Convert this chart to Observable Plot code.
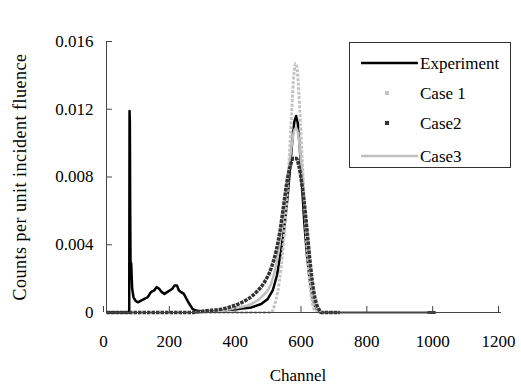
<!DOCTYPE html>
<html>
<head>
<meta charset="utf-8">
<script src="https://cdn.jsdelivr.net/npm/d3@7"></script>
<script src="https://cdn.jsdelivr.net/npm/@observablehq/plot@0.6"></script>
<style>
  body { margin: 0; background: #fff; }
  #chart { position: relative; width: 521px; height: 390px; font-family: "Liberation Serif", "Times New Roman", serif; }
  #chart svg text { font-family: "Liberation Serif", "Times New Roman", serif; }
  #legend { position: absolute; left: 349px; top: 42px; }
</style>
</head>
<body>
<div id="chart"></div>
<script>
// Pulse-height spectra: measured response vs. three simulated cases
const xTicks = [0, 200, 400, 600, 800, 1000, 1200];
const yTicks = [0, 0.004, 0.008, 0.012, 0.016];

const seriesNames = ["Experiment", "Case 1", "Case2", "Case3"];

const expChannel = [0, 69, 70, 71, 72, 73, 75, 78, 82, 88, 95, 105, 115, 125, 135, 145, 152, 160, 168, 176, 184, 192, 200, 207, 214, 220, 227, 235, 243, 252, 262, 275, 300, 350, 400, 440, 470, 490, 505, 518, 530, 540, 550, 558, 565, 571, 576, 581, 587, 594, 601, 609, 617, 625, 633, 641, 650, 1000];
const expCounts = [0, 0, 0.0119, 0.0112, 0.0060, 0.0030, 0.0029, 0.0014, 0.0009, 0.0007, 0.0006, 0.0007, 0.0008, 0.0009, 0.0012, 0.0013, 0.0015, 0.0014, 0.0012, 0.0011, 0.0012, 0.0013, 0.0014, 0.0016, 0.0016, 0.0013, 0.0012, 0.0011, 0.0008, 0.0005, 0.0002, 0.0001, 0.00005, 0.0001, 0.0002, 0.0003, 0.0005, 0.0008, 0.0013, 0.0022, 0.0036, 0.0050, 0.0068, 0.0086, 0.0103, 0.0113, 0.0116, 0.0112, 0.0098, 0.0075, 0.0053, 0.0034, 0.0020, 0.0010, 0.0004, 0.0001, 0, 0];

const case1Channel = [270, 500, 510, 520, 530, 540, 548, 556, 563, 569, 575, 581, 587, 594, 602, 610, 618, 626, 634, 650];
const case1Counts = [0, 0, 0.0004, 0.0012, 0.0026, 0.0046, 0.0068, 0.0094, 0.0120, 0.0140, 0.0147, 0.0140, 0.0120, 0.0092, 0.0062, 0.0036, 0.0016, 0.0005, 0.0001, 0];

const case2Channel = [0, 260, 300, 350, 400, 430, 460, 480, 500, 515, 527, 538, 549, 559, 568, 576, 584, 592, 600, 610, 620, 630, 638, 645, 652, 709];
const case2Counts = [0, 0, 0.0001, 0.0002, 0.0005, 0.0008, 0.0013, 0.0018, 0.0026, 0.0036, 0.0048, 0.0063, 0.0078, 0.0087, 0.0091, 0.0091, 0.0087, 0.0078, 0.0066, 0.0047, 0.0027, 0.0012, 0.0005, 0.0002, 0, 0];

const case3Channel = [260, 350, 400, 440, 470, 500, 515, 527, 538, 548, 557, 565, 571, 577, 583, 590, 598, 606, 614, 622, 630, 638, 646, 656, 975];
const case3Counts = [0, 0.0001, 0.0003, 0.0005, 0.0009, 0.0017, 0.0028, 0.0043, 0.0059, 0.0075, 0.0090, 0.0102, 0.0108, 0.0109, 0.0104, 0.0092, 0.0073, 0.0052, 0.0033, 0.0018, 0.0008, 0.0003, 0.0001, 0, 0];

const rows = (ch, v) => ch.map((c, i) => ({channel: c, counts: v[i]}));

// per-series line style
const styles = {
  "Experiment": {stroke: "#000", strokeWidth: 2.5, strokeDasharray: null},
  "Case 1": {stroke: "#c4c4c4", strokeWidth: 3, strokeDasharray: "3,1.5"},
  "Case2": {stroke: "#333", strokeWidth: 3.5, strokeDasharray: "3.5,1"},
  "Case3": {stroke: "#c0c0c0", strokeWidth: 2.5, strokeDasharray: null}
};

const lineMark = (data, name, curve) => Plot.line(data, {
  x: "channel", y: "counts", curve,
  stroke: styles[name].stroke, strokeWidth: styles[name].strokeWidth,
  strokeDasharray: styles[name].strokeDasharray, strokeLinecap: "butt", strokeLinejoin: "round"
});

const serif = '"Liberation Serif", "Times New Roman", serif';

const plot = Plot.plot({
  width: 521,
  height: 390,
  marginLeft: 106,
  marginRight: 20,
  marginTop: 41,
  marginBottom: 78,
  x: {domain: [0, 1200]},
  y: {domain: [0, 0.016]},
  style: {fontFamily: serif, fontSize: "17px", color: "#000", background: "#fff"},
  marks: [
    lineMark(rows(expChannel, expCounts), "Experiment", "linear"),
    lineMark(rows(case1Channel, case1Counts), "Case 1", "monotone-x"),
    lineMark(rows(case3Channel, case3Counts), "Case3", "monotone-x"),
    lineMark(rows(case2Channel, case2Counts), "Case2", "monotone-x"),
    Plot.ruleY([0], {stroke: "#444", strokeWidth: 1}),
    Plot.ruleX([0], {stroke: "#444", strokeWidth: 1}),
    Plot.axisX({ticks: xTicks, tickSize: -6, tickPadding: 28, label: null, stroke: "#444", dx: -3, tickFormat: d => String(d)}),
    Plot.axisY({ticks: yTicks, tickSize: -6, tickPadding: 19, label: null, stroke: "#444", tickFormat: d => d === 0 ? "0" : d.toFixed(3)}),
    Plot.text(["Channel"], {text: d => d, frameAnchor: "bottom", dx: -6, dy: 68, fontSize: 17, textAnchor: "middle"}),
    Plot.text(["Counts per unit incident fluence"], {text: d => d, frameAnchor: "left", dx: -86, rotate: -90, fontSize: 18, textAnchor: "middle"})
  ]
});

const chart = document.getElementById("chart");
chart.appendChild(plot);
d3.select(plot).selectAll("text")
  .filter(function() { return this.textContent === "Counts per unit incident fluence"; })
  .style("letter-spacing", "0.5px");

// Legend box in the upper right of the plot area
const lw = 162, lh = 126, rowY = [21, 51, 81, 114];
const legend = d3.select(chart).append("svg")
  .attr("id", "legend").attr("width", lw).attr("height", lh);
legend.append("rect").attr("x", 0.5).attr("y", 0.5).attr("width", lw - 1).attr("height", lh - 1)
  .attr("fill", "#fff").attr("stroke", "#333").attr("stroke-width", 1);
seriesNames.forEach((name, i) => {
  const s = styles[name];
  const g = legend.append("g").attr("transform", `translate(0,${rowY[i]})`);
  if (s.strokeDasharray) {
    g.append("rect").attr("x", 36).attr("y", -2).attr("width", 4).attr("height", 4).attr("fill", s.stroke);
  } else {
    g.append("line").attr("x1", 12).attr("x2", 69).attr("y1", 0).attr("y2", 0)
      .attr("stroke", s.stroke).attr("stroke-width", s.strokeWidth);
  }
  g.append("text").attr("x", 71).attr("dy", "0.35em")
    .attr("font-family", serif).attr("font-size", 17)
    .text(name);
});
</script>
</body>
</html>
